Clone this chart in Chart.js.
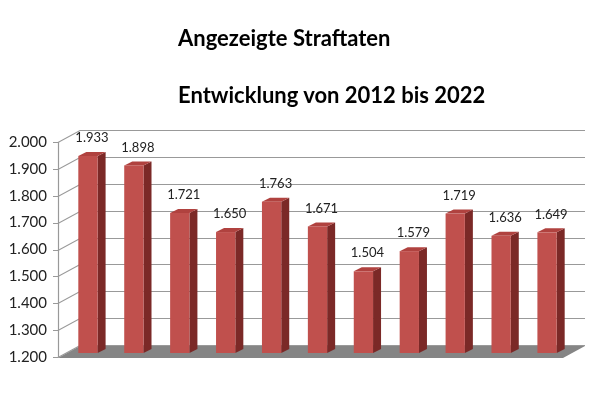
<!DOCTYPE html>
<html>
<head>
<meta charset="utf-8">
<script src="https://cdn.jsdelivr.net/npm/chart.js@4/dist/chart.umd.min.js"></script>
<style>
  body { margin: 0; background: #fff; }
  #wrap { position: relative; width: 589px; height: 413px; }
  .ttl { position: absolute; left: 178px; font-family: Lato, sans-serif; font-weight: bold; color: #000; line-height: 1; white-space: nowrap; font-size: 22px; }
  #t1 { top: 27px; }
  #t2 { top: 84px; }
</style>
</head>
<body>
<div id="wrap">
  <canvas id="myChart" width="589" height="413"></canvas>
  <div class="ttl" id="t1">Angezeigte Straftaten</div>
  <div class="ttl" id="t2">Entwicklung von 2012 bis 2022</div>
</div>
<script>
const years = ['2012', '2013', '2014', '2015', '2016', '2017', '2018', '2019', '2020', '2021', '2022'];
const cases = [1933, 1898, 1721, 1650, 1763, 1671, 1504, 1579, 1719, 1636, 1649];
const yTicks = [1200, 1300, 1400, 1500, 1600, 1700, 1800, 1900, 2000];

// german thousands separator
function fmt(v) {
    return Math.floor(v / 1000) + '.' + String(v % 1000).padStart(3, '0');
}

// depth of the walls and of the bars
const DX = 22, DY = -12;
const BDX = 8, BDY = -4;
const OX = 7, OY = -4;

const pseudo3d = {
    id: 'pseudo3d',
    beforeDatasetsDraw(chart) {
        const { ctx, chartArea: { left, right, top, bottom }, scales: { y } } = chart;
        ctx.save();
        ctx.strokeStyle = '#999';
        ctx.lineWidth = 1.2;
        yTicks.forEach(v => {
            const py = Math.round(y.getPixelForValue(v)) + 0.5;
            ctx.beginPath();
            ctx.moveTo(left - 5, py);
            ctx.lineTo(left, py);
            ctx.lineTo(left + DX, py + DY);
            ctx.lineTo(right + DX, py + DY);
            ctx.stroke();
        });
        ctx.beginPath();
        ctx.moveTo(left + 0.5, top);
        ctx.lineTo(left + 0.5, bottom);
        ctx.stroke();
        // floor
        ctx.fillStyle = '#858585';
        ctx.beginPath();
        ctx.moveTo(left, bottom + 1);
        ctx.lineTo(right, bottom + 1);
        ctx.lineTo(right + DX, bottom + 1 + DY);
        ctx.lineTo(left + DX, bottom + 1 + DY);
        ctx.closePath();
        ctx.fill();
        ctx.restore();
    },
    afterDatasetsDraw(chart) {
        const { ctx, chartArea } = chart;
        const meta = chart.getDatasetMeta(0);
        ctx.save();
        meta.data.forEach((bar, i) => {
            const { x, y, base, width } = bar.getProps(['x', 'y', 'base', 'width'], true);
            const x0 = x - width / 2 + OX, x1 = x0 + width;
            const y0 = y + OY, y1 = Math.min(base, chartArea.bottom) + OY;
            ctx.fillStyle = '#7b2927';
            ctx.beginPath();
            ctx.moveTo(x1, y0);
            ctx.lineTo(x1 + BDX, y0 + BDY);
            ctx.lineTo(x1 + BDX, y1 + BDY);
            ctx.lineTo(x1, y1);
            ctx.closePath();
            ctx.fill();
            ctx.fillStyle = '#b0423f';
            ctx.beginPath();
            ctx.moveTo(x0, y0);
            ctx.lineTo(x1, y0);
            ctx.lineTo(x1 + BDX, y0 + BDY);
            ctx.lineTo(x0 + BDX, y0 + BDY);
            ctx.closePath();
            ctx.fill();
            ctx.fillStyle = '#c0504d';
            ctx.fillRect(x0, y0, width, y1 - y0);

            ctx.fillStyle = '#222';
            ctx.font = '13px Lato, sans-serif';
            ctx.textAlign = 'center';
            ctx.textBaseline = 'middle';
            ctx.fillText(fmt(cases[i]), x0 + (width + BDX) / 2, y0 - 18);
        });
        ctx.restore();
    }
};

new Chart(document.getElementById('myChart'), {
    type: 'bar',
    data: {
        labels: years,
        datasets: [{
            data: cases,
            backgroundColor: 'rgba(0,0,0,0)',
            barPercentage: 0.42,
            categoryPercentage: 1
        }]
    },
    options: {
        responsive: false,
        animation: false,
        layout: { padding: { left: 0, top: 142, right: 26, bottom: 56 } },
        plugins: { legend: { display: false }, tooltip: { enabled: false } },
        scales: {
            x: { display: false },
            y: {
                min: 1200,
                max: 2000,
                afterFit(scale) { scale.width = 58; },
                grid: { display: false },
                border: { display: false },
                ticks: {
                    stepSize: 100,
                    padding: 3,
                    color: '#222',
                    font: { family: 'Lato', size: 15 },
                    callback: v => fmt(v)
                }
            }
        }
    },
    plugins: [pseudo3d]
});
</script>
</body>
</html>
